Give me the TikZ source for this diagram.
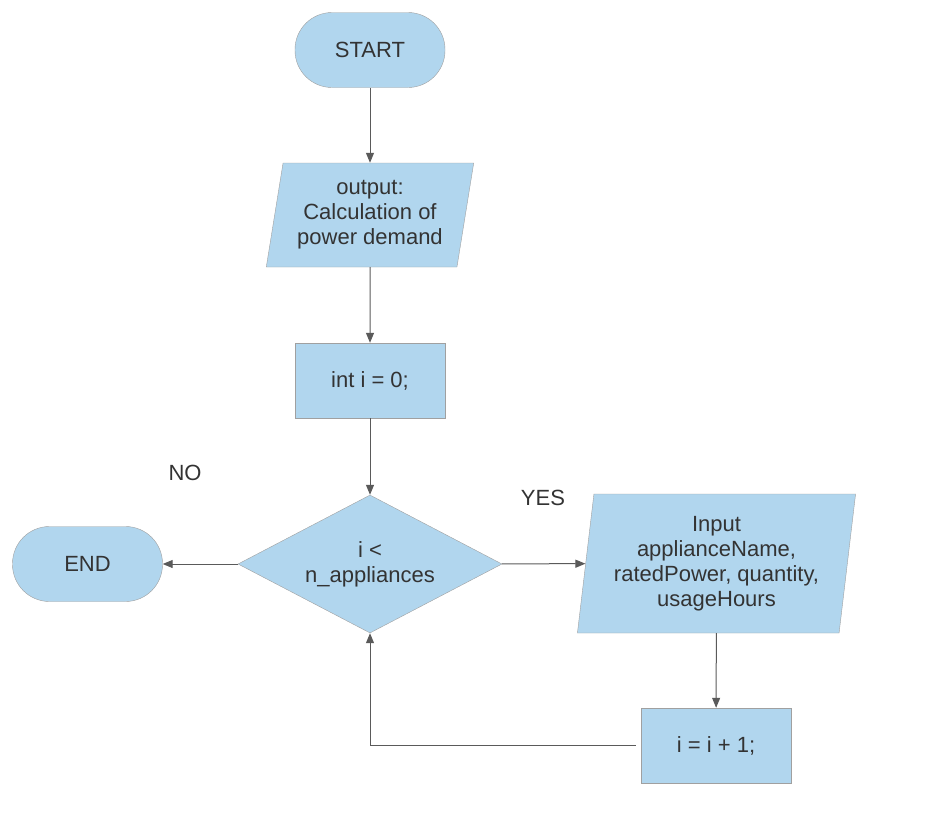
\documentclass[tikz,border=0pt]{standalone}
\usepackage{fontspec}
\setmainfont{Liberation Sans}
\usetikzlibrary{shapes.geometric,arrows.meta}
\definecolor{boxfill}{RGB}{177,214,238}
\definecolor{boxline}{RGB}{160,160,160}
\definecolor{arrowline}{RGB}{90,90,90}
\definecolor{txt}{RGB}{51,51,51}

\begin{document}
\begin{tikzpicture}[x=1pt, y=-1pt,
    every node/.style={text=txt, font=\fontsize{22}{25}\selectfont, align=center},
    terminal/.style={draw=boxline, fill=boxfill, rounded corners=37pt, minimum width=150pt, minimum height=75pt},
    procbox/.style={draw=boxline, fill=boxfill, minimum width=150pt, minimum height=75pt},
    iobox/.style={trapezium, trapezium stretches=true, draw=boxline, fill=boxfill},
    decision/.style={diamond, aspect=1.9, inner sep=0pt, draw=boxline, fill=boxfill, minimum width=264pt, minimum height=138pt},
    flow/.style={draw=arrowline, line width=1pt, -{Triangle[length=10pt,width=8pt]}}]
            \useasboundingbox (0,0) rectangle (928,819);

            % Nodes
            \node (start) at (370,50) [terminal] {START};
            \node (output) at (370,215) [iobox, trapezium left angle=79, trapezium right angle=101, minimum width=208pt, minimum height=104pt] {output:\\Calculation of\\power demand};
            \node (init) at (370,380.5) [procbox] {int i = 0;};
            \node (cond) at (370,564) [decision] {i <\\n\_appliances};
            \node (end) at (87.5,564) [terminal] {END};
            \node (input) at (716.5,563.5) [iobox, trapezium left angle=82, trapezium right angle=98, minimum width=279pt, minimum height=139pt] {Input\\applianceName,\\ratedPower, quantity,\\usageHours};
            \node (incr) at (716,745.5) [procbox] {i = i + 1;};
            \node (yes) at (543,498) {YES};
            \node (no) at (185,473) {NO};

            % Arrows
            \draw[flow] (start) -- (output);
            \draw[flow] (output) -- (init);
            \draw[flow] (init) -- (cond);
            \draw[flow] (cond) -- (end);
            \draw[flow] (cond) -- (input);
            \draw[flow] (input) -- (incr);
            \draw[flow, shorten <=5pt] (incr.west) -| (cond.south);
        \end{tikzpicture}
\end{document}
